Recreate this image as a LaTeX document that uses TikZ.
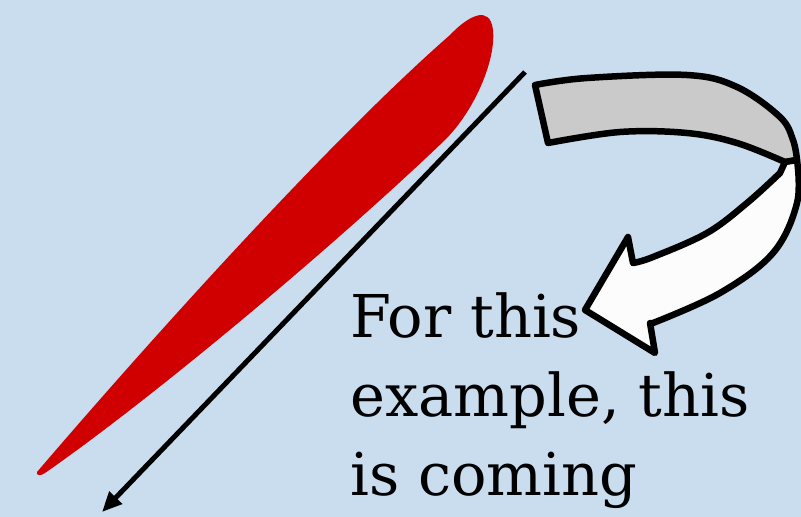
\documentclass[tikz,border=0pt]{standalone}
\usepackage{fontspec}
\setmainfont{DejaVu Serif}
\usepackage{xcolor}
\usepackage{tikz}
\usetikzlibrary{arrows.meta}
\definecolor{skyBg}{RGB}{201,221,239}
\definecolor{bladeRed}{RGB}{208,0,0}
\definecolor{foldGray}{RGB}{202,202,202}
\definecolor{foldWhite}{RGB}{252,252,252}
\tikzset{
  blade/.style={fill=bladeRed},
  ribbon/.style={draw=black, line width=6.5pt, line join=round},
  pointer/.style={-{Triangle[length=20pt,width=17pt]}, line width=5pt, draw=black},
  caption/.style={align=left, inner sep=0pt, font=\fontsize{59}{79}\selectfont}
}

\begin{document}
\begin{tikzpicture}[x=1pt,y=-1pt]
  \fill[skyBg] (0,0) rectangle (801,517);
  \useasboundingbox (0,0) rectangle (801,517);
  % red blade
  \fill[blade] (37,472) .. controls (150,340) and (330,140) .. (450,35)
    .. controls (468,16) and (490,4) .. (493,30)
    .. controls (496,60) and (475,110) .. (445,140)
    .. controls (330,250) and (150,400) .. (45,473)
    .. controls (41,476) and (36,476) .. (37,472) -- cycle;
  % direction arrow
  \coordinate (from) at (525,72);
  \coordinate (to) at (102,512);
  \draw[pointer] (from) -- (to);
  % folded arrow, back side
  \path[ribbon, fill=foldGray] (535,85) -- plot[smooth, tension=0.6] coordinates {(548,143) (620,132) (687,133) (737,143) (785,162)}
    -- plot[smooth, tension=0.6] coordinates {(797,160) (793,140) (780,117) (737,87) (687,75) (587,78) (535,85)} -- cycle;
  % folded arrow, front side
  \path[ribbon, fill=foldWhite] (785,162) -- plot[smooth, tension=0.6] coordinates {(780,173) (747,203) (707,233) (653,257) (633,263)}
    -- (628,237) -- (585,310) -- (655,353) -- (650,323)
    -- plot[smooth, tension=0.6] coordinates {(653,323) (720,293) (773,253) (797,203) (797,160)} -- cycle;
  \node[caption, anchor=base west] (note) at (350,495) {For this\\example, this\\is coming};
\end{tikzpicture}
\end{document}
